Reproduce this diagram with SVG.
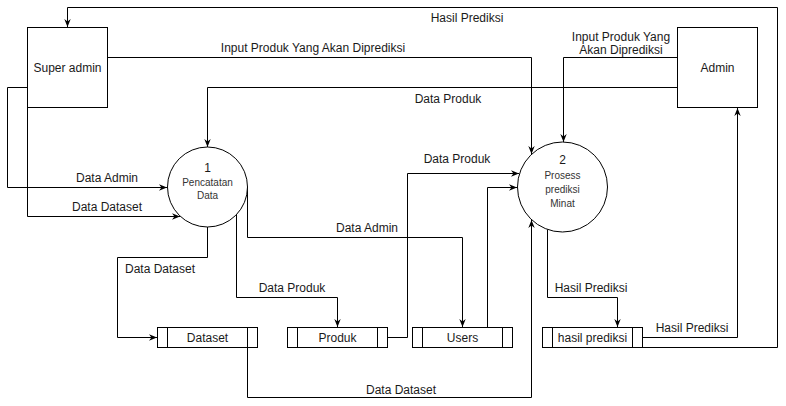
<svg xmlns="http://www.w3.org/2000/svg" width="786" height="406" viewBox="0 0 786 406">
<defs>
<marker id="arr" viewBox="0 0 10 10" refX="10" refY="5" markerWidth="8" markerHeight="8" markerUnits="userSpaceOnUse" orient="auto">
<path d="M0,1 L10,5 L0,9 L3,5 z" fill="#000"/>
</marker>
<style>
.box{fill:#fff;stroke:#000;stroke-width:1}
.ln{fill:none;stroke:#000;stroke-width:1}
.ar{fill:none;stroke:#000;stroke-width:1;marker-end:url(#arr)}
text{font-family:"Liberation Sans",Arial,sans-serif;font-size:12px;fill:#1a1a1a;text-anchor:middle}
.sm{font-size:10px;fill:#333}
</style>
</defs>
<rect width="786" height="406" fill="#fff"/>
<g id="connectors">
<path class="ar" d="M642.5 347.5 H777.5 V7.5 H67.5 V27"/>
<path class="ar" d="M107.5 57.5 H531.5 V154"/>
<path class="ar" d="M677.5 57.5 H563.5 V142"/>
<path class="ar" d="M677.5 87.5 H207.5 V147"/>
<path class="ar" d="M27.5 87.5 H7.5 V187.5 H167"/>
<path class="ar" d="M27.5 107.5 V216.5 H180"/>
<path class="ar" d="M207.5 227 V257.5 H117.5 V337.5 H157"/>
<path class="ar" d="M236.5 214.5 V297.5 H337.5 V327"/>
<path class="ar" d="M247.5 187 V237.5 H462.5 V327"/>
<path class="ar" d="M487.5 327.5 V187.5 H517"/>
<path class="ar" d="M387.5 337.5 H407.5 V173.5 H519"/>
<path class="ar" d="M247.5 347.5 V397.5 H531.5 V220"/>
<path class="ar" d="M547.5 229.4 V297.5 H617.5 V327"/>
<path class="ar" d="M642.5 337.5 H737.5 V108"/>
<text x="467" y="22">Hasil Prediksi</text>
<text x="313" y="52">Input Produk Yang Akan Diprediksi</text>
<text x="621" y="41">Input Produk Yang</text>
<text x="621" y="54">Akan Diprediksi</text>
<text x="448" y="103">Data Produk</text>
<text x="107" y="182">Data Admin</text>
<text x="107" y="211">Data Dataset</text>
<text x="160" y="273">Data Dataset</text>
<text x="292" y="292">Data Produk</text>
<text x="367" y="232">Data Admin</text>
<text x="457" y="163">Data Produk</text>
<text x="401" y="394">Data Dataset</text>
<text x="591" y="292">Hasil Prediksi</text>
<text x="692" y="332">Hasil Prediksi</text>
</g>
<g id="superadmin">
<rect class="box" x="27.5" y="27.5" width="80" height="80"/>
<text x="67.5" y="72">Super admin</text>
</g>
<g id="admin">
<rect class="box" x="677.5" y="27.5" width="80" height="80"/>
<text x="717.5" y="72">Admin</text>
</g>
<g id="proses1">
<circle class="box" cx="207.5" cy="187" r="40"/>
<text x="207.5" y="172">1</text>
<text class="sm" x="207.5" y="186">Pencatatan</text>
<text class="sm" x="207.5" y="199">Data</text>
</g>
<g id="proses2">
<circle class="box" cx="562.5" cy="187" r="45"/>
<text x="562.5" y="164">2</text>
<text class="sm" x="562.5" y="179">Prosess</text>
<text class="sm" x="562.5" y="193">prediksi</text>
<text class="sm" x="562.5" y="207">Minat</text>
</g>
<g id="dataset">
<rect class="box" x="157.5" y="327.5" width="100" height="20"/>
<path class="ln" d="M167.5 327.5 V347.5 M247.5 327.5 V347.5"/>
<text x="207.5" y="341.5">Dataset</text>
</g>
<g id="produk">
<rect class="box" x="287.5" y="327.5" width="100" height="20"/>
<path class="ln" d="M297.5 327.5 V347.5 M377.5 327.5 V347.5"/>
<text x="337.5" y="341.5">Produk</text>
</g>
<g id="users">
<rect class="box" x="412.5" y="327.5" width="100" height="20"/>
<path class="ln" d="M422.5 327.5 V347.5 M502.5 327.5 V347.5"/>
<text x="462.5" y="341.5">Users</text>
</g>
<g id="hasilprediksi">
<rect class="box" x="542.5" y="327.5" width="100" height="20"/>
<path class="ln" d="M552.5 327.5 V347.5 M632.5 327.5 V347.5"/>
<text x="592.5" y="341.5">hasil prediksi</text>
</g>
</svg>
